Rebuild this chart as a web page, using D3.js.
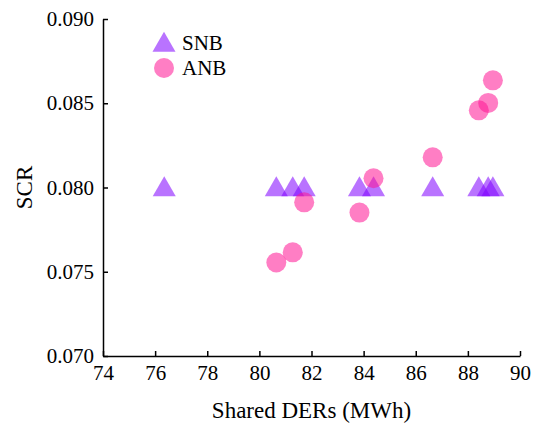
<!DOCTYPE html>
<html>
<head>
<meta charset="utf-8">
<script src="https://cdn.jsdelivr.net/npm/d3@7"></script>
<style>
  body { margin: 0; background: #fff; }
</style>
</head>
<body>
<div id="main"></div>
<script>
// shared DERs (MWh), same for both series
var sharedDERs = [76.35, 80.65, 81.28, 81.72, 83.84, 84.38, 86.65, 88.42, 88.78, 88.96];
var snbSCR = [0.080, 0.080, 0.080, 0.080, 0.080, 0.080, 0.080, 0.080, 0.080, 0.080];
var anbDERs = [80.65, 81.28, 81.72, 83.84, 84.38, 86.65, 88.42, 88.78, 88.96];
var anbSCR = [0.07555, 0.07615, 0.07912, 0.07851, 0.08055, 0.08179, 0.08458, 0.08502, 0.08636];
var xTicks = [74, 76, 78, 80, 82, 84, 86, 88, 90];
var yTicks = [0.070, 0.075, 0.080, 0.085, 0.090];
var seriesNames = ["SNB", "ANB"];

var FONT = "'Liberation Serif', 'Times New Roman', Times, serif";

var W = 533, H = 427;
var margin = {top: 19, right: 13, bottom: 71, left: 103};
var width = W - margin.left - margin.right,
  height = H - margin.top - margin.bottom;

var svg = d3.select("#main").append("svg")
  .attr("width", W)
  .attr("height", H);

var g = svg.append("g")
  .attr("transform", "translate(" + margin.left + "," + margin.top + ")");

var x = d3.scaleLinear().domain([74, 90]).range([0, width]);
var y = d3.scaleLinear().domain([0.070, 0.090]).range([height, 0]);

var purple = "rgb(128,0,255)", pink = "rgb(255,20,147)";

// axes, ticks pointing inward
var xAxis = g.append("g")
  .attr("transform", "translate(0," + height + ")")
  .call(d3.axisBottom(x).tickValues(xTicks).tickSize(-5).tickPadding(9).tickSizeOuter(0));
var yAxis = g.append("g")
  .call(d3.axisLeft(y).tickValues(yTicks).tickFormat(d3.format(".3f")).tickSize(-5).tickPadding(9).tickSizeOuter(0));

[xAxis, yAxis].forEach(function(a) {
  a.attr("font-family", null).attr("font-size", null);
  a.selectAll("path, line").attr("stroke", "#000").attr("stroke-width", 1.5);
  a.selectAll("text").style("font-size", "21px").style("font-family", FONT).attr("fill", "#000");
});
xAxis.selectAll("text").attr("dy", "0.72em");

// axis titles
g.append("text")
  .attr("x", width / 2)
  .attr("y", height + 62)
  .attr("text-anchor", "middle")
  .style("font-size", "23px")
  .style("font-family", FONT)
  .text("Shared DERs (MWh)");

g.append("text")
  .attr("transform", "translate(" + (-71) + "," + (height / 2) + ") rotate(-90)")
  .attr("text-anchor", "middle")
  .style("font-size", "23px")
  .style("font-family", FONT)
  .text("SCR");

var triangle = d3.symbol().type(d3.symbolTriangle).size(230);

// SNB triangles
g.selectAll(".snb")
  .data(sharedDERs.map(function(d, i) { return {x: d, y: snbSCR[i]}; }))
  .enter().append("path")
  .attr("class", "snb")
  .attr("d", triangle)
  .attr("transform", function(d) {
    return "translate(" + x(d.x) + "," + (y(d.y) + 2) + ")";
  })
  .attr("fill", purple)
  .attr("fill-opacity", 0.55);

// ANB circles
g.selectAll(".anb")
  .data(anbDERs.map(function(d, i) { return {x: d, y: anbSCR[i]}; }))
  .enter().append("circle")
  .attr("class", "anb")
  .attr("cx", function(d) { return x(d.x); })
  .attr("cy", function(d) { return y(d.y); })
  .attr("r", 10)
  .attr("fill", pink)
  .attr("fill-opacity", 0.55);

// legend
var legend = svg.selectAll(".legend")
  .data(seriesNames)
  .enter().append("g")
  .attr("class", "legend")
  .attr("transform", function(d, i) {
    return "translate(164," + (43 + i * 25) + ")";
  });

legend.append("path")
  .attr("d", function(d, i) {
    return i == 0 ? triangle() : d3.symbol().type(d3.symbolCircle).size(314)();
  })
  .attr("transform", function(d, i) { return i == 0 ? "translate(0,2)" : null; })
  .attr("fill", function(d, i) { return i == 0 ? purple : pink; })
  .attr("fill-opacity", 0.55);

legend.append("text")
  .attr("x", 18)
  .attr("dy", "0.35em")
  .style("font-size", "21px")
  .style("font-family", FONT)
  .text(function(d) { return d; });
</script>
</body>
</html>
